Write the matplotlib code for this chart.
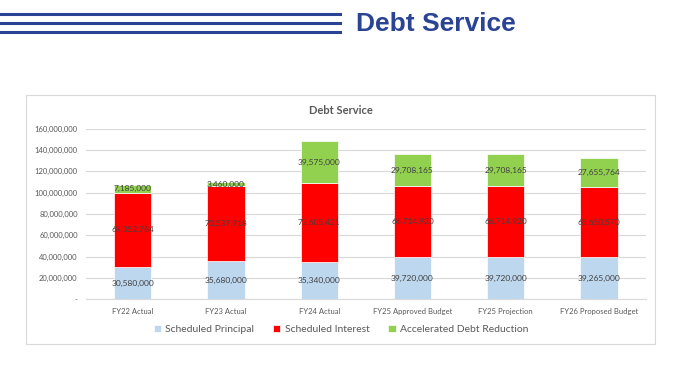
import numpy as np
import matplotlib
matplotlib.use("Agg")
import matplotlib.pyplot as plt
from matplotlib.patches import Rectangle
from matplotlib.ticker import FuncFormatter

plt.rcParams.update({"font.family": ["Lato", "DejaVu Sans"]})

# ── Dados ──────────────────────────────────────────────────────────────
CATEGORIAS = ["FY22 Actual", "FY23 Actual", "FY24 Actual",
              "FY25 Approved Budget", "FY25 Projection", "FY26 Proposed Budget"]
PRINCIPAL = [30580000, 35680000, 35340000, 39720000, 39720000, 39265000]
JUROS     = [69352764, 70537918, 73605421, 66714920, 66714920, 65650570]
ACELERADO = [7185000, 3460000, 39575000, 29708165, 29708165, 27655764]
SERIES    = ["Scheduled Principal", "Scheduled Interest", "Accelerated Debt Reduction"]
CORES     = ["#BDD7EE", "#FF0000", "#92D050"]
AZUL      = "#2A4393"
CINZA     = "#595959"

fig = plt.figure(figsize=(6.78, 3.78), dpi=100)

# ── Cabecalho: tres linhas + titulo ───────────────────────────────────
for y in [0.963, 0.939, 0.916]:
    fig.add_artist(plt.Line2D([0, 0.502], [y, y], color=AZUL, linewidth=2.2,
                              transform=fig.transFigure))
fig.text(0.525, 0.937, "Debt Service", fontsize=19, fontweight="bold",
         color=AZUL, family=["Liberation Sans", "DejaVu Sans"],
         ha="left", va="center")

# moldura do grafico
fig.add_artist(Rectangle((0.0383, 0.0899), 0.9277, 0.6587, transform=fig.transFigure,
                         facecolor="none", edgecolor="#D9D9D9", linewidth=0.8))

ax = fig.add_axes([0.1268, 0.2082, 0.8256, 0.4513])
x = np.arange(len(CATEGORIAS))
base = np.zeros(len(CATEGORIAS))
for vals, nome, cor in zip([PRINCIPAL, JUROS, ACELERADO], SERIES, CORES):
    bars = ax.bar(x, vals, width=0.4, bottom=base, color=cor, label=nome,
                  edgecolor="white", linewidth=0.5, zorder=3)
    for xi, b, v in zip(x, base, vals):
        ax.text(xi, b + v / 2, f"{v:,}", ha="center", va="center",
                fontsize=6, color="#404040", zorder=4)
    base = base + np.array(vals)

ax.set_ylim(0, 160000000)
ax.set_yticks(np.arange(0, 160000001, 20000000))
ax.yaxis.set_major_formatter(FuncFormatter(lambda v, p: "-" if v == 0 else f"{int(v):,}"))
ax.set_xlim(-0.5, len(CATEGORIAS) - 0.5)
ax.set_xticks(x)
ax.set_xticklabels(CATEGORIAS)
ax.tick_params(axis="both", length=0, labelsize=5.5, colors=CINZA, pad=6)
ax.grid(axis="y", color="#D9D9D9", linewidth=0.8, zorder=0)
for s in ["top", "right", "left"]:
    ax.spines[s].set_visible(False)
ax.spines["bottom"].set_color("#D9D9D9")

fig.text(0.503, 0.708, "Debt Service", fontsize=8, fontweight="bold",
         color=CINZA, ha="center", va="center")

fig.legend(loc="center", bbox_to_anchor=(0.503, 0.128), ncol=3, frameon=False,
           fontsize=7.5, labelcolor=CINZA, handlelength=0.7, handleheight=0.7,
           handletextpad=0.4, columnspacing=1.8)

fig.savefig("out.png", dpi=100)
